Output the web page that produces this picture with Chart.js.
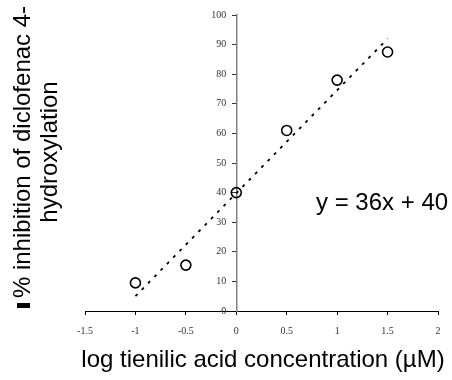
<!DOCTYPE html>
<html><head><meta charset="utf-8">
<script src="https://cdn.jsdelivr.net/npm/chart.js@4.4.0/dist/chart.umd.min.js"></script>
<style>html,body{margin:0;padding:0;background:#fff;}#wrap{width:452px;height:380px;}</style>
</head><body><div id="wrap"><canvas id="c" width="452" height="380"></canvas></div>
<script>
// ---- data ----
const logConc = [-1, -0.5, 0, 0.5, 1, 1.5];
const inhibition = [9.5, 15.5, 40, 61, 78, 87.5];
const trendX = [-1, 1.5];
const trendY = [5, 92];
const xTicks = [-1.5, -1, -0.5, 0, 0.5, 1, 1.5, 2];
const xTickLabels = ['-1.5', '-1', '-0.5', '0', '0.5', '1', '1.5', '2'];
const yTicks = [0, 10, 20, 30, 40, 50, 60, 70, 80, 90, 100];
const yTickLabels = ['0', '10', '20', '30', '40', '50', '60', '70', '80', '90', '100'];
const xTitle = 'log tienilic acid concentration (\u00B5M)';
const yTitleLines = ['% inhibition of diclofenac 4-', 'hydroxylation'];
const equationText = 'y = 36x + 40';

const sans = '"Liberation Sans", Arial, sans-serif';
const serif = '"Liberation Serif", "Times New Roman", serif';

const textPlugin = {
  id: 'texts',
  afterDraw(chart) {
    const ctx = chart.ctx;
    const xs = chart.scales.x, ys = chart.scales.y;
    ctx.save();
    // y tick labels, placed left of the crossing y axis
    ctx.font = '10px ' + serif;
    ctx.fillStyle = '#333';
    ctx.textAlign = 'right';
    ctx.textBaseline = 'middle';
    const axisX = xs.getPixelForValue(0);
    yTicks.forEach((v, i) => ctx.fillText(yTickLabels[i], axisX - 10, ys.getPixelForValue(v)));

    ctx.fillStyle = '#000';
    ctx.font = '24px ' + sans;
    ctx.textBaseline = 'alphabetic';
    // x title
    ctx.textAlign = 'center';
    ctx.fillText(xTitle, 263, 367);
    // equation
    ctx.textAlign = 'left';
    ctx.fillText(equationText, 316, 210);
    // y title (rotated)
    ctx.save();
    ctx.translate(0, 152);
    ctx.rotate(-Math.PI / 2);
    ctx.textAlign = 'center';
    ctx.fillText(yTitleLines[0], 0, 30);
    ctx.fillText(yTitleLines[1], 0, 57);
    ctx.restore();
    // small black marker before the title, as in the reference
    ctx.fillRect(17, 303, 13, 5);
    ctx.restore();
  }
};

new Chart(document.getElementById('c'), {
  type: 'scatter',
  data: {
    datasets: [
      {
        label: 'data',
        data: logConc.map((x, i) => ({x: x, y: inhibition[i]})),
        showLine: false,
        pointRadius: 5,
        pointHoverRadius: 5,
        pointBorderWidth: 1.6,
        borderColor: '#000',
        backgroundColor: 'rgba(255,255,255,0)',
        order: 0
      },
      {
        label: 'trend',
        type: 'line',
        data: trendX.map((x, i) => ({x: x, y: trendY[i]})),
        showLine: true,
        borderColor: '#000',
        borderWidth: 1.8,
        borderDash: [3, 6],
        pointRadius: 0,
        fill: false,
        order: 1
      }
    ]
  },
  options: {
    responsive: false,
    devicePixelRatio: 1,
    animation: false,
    layout: {padding: {left: 85, right: 14, top: 15, bottom: 0}},
    plugins: {legend: {display: false}, tooltip: {enabled: false}},
    scales: {
      x: {
        type: 'linear',
        position: 'bottom',
        min: -1.5, max: 2,
        afterBuildTicks(scale) { scale.ticks = xTicks.map(v => ({value: v})); },
        afterFit(scale) { scale.height = 69; },
        ticks: {
          callback: (v) => { const i = xTicks.indexOf(v); return i >= 0 ? xTickLabels[i] : ''; },
          font: {family: serif, size: 10},
          color: '#333',
          padding: 10,
          maxRotation: 0,
          autoSkip: false
        },
        grid: {drawOnChartArea: false, drawTicks: true, tickLength: 4, color: '#000', lineWidth: 1},
        border: {display: true, color: '#000', width: 1}
      },
      y: {
        type: 'linear',
        position: {x: 0},
        min: 0, max: 100,
        afterBuildTicks(scale) { scale.ticks = yTicks.map(v => ({value: v})); },
        ticks: {display: false},
        grid: {drawOnChartArea: false, drawTicks: true, tickLength: 4, color: '#333', lineWidth: 1},
        border: {display: true, color: '#808080', width: 1.5}
      }
    }
  },
  plugins: [textPlugin]
});
</script>
</body></html>
